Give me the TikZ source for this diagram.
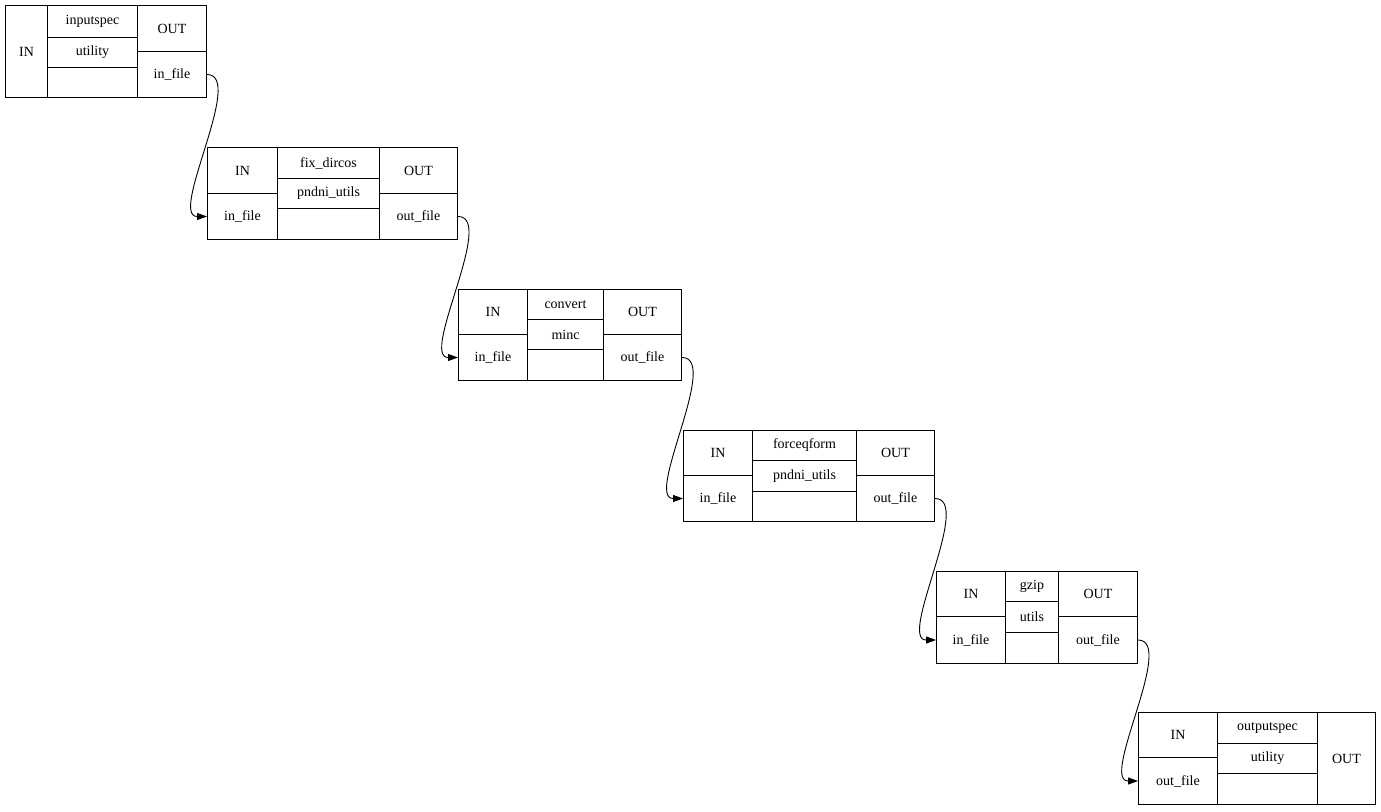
\documentclass[tikz,border=0pt]{standalone}
\usepackage{fontspec}
\setmainfont{Liberation Serif}
\usetikzlibrary{arrows.meta}

\begin{document}
\begin{tikzpicture}[x=1pt, y=1pt, line width=1pt,
  cell/.style={draw, rectangle, inner sep=0pt, anchor=north west, font=\fontsize{14}{16}\selectfont},
  link/.style={-{Triangle[length=10pt,width=7pt]}, line width=0.9pt, looseness=0.7}]
\useasboundingbox (0,0) rectangle (1381,-811);
% inputspec
\node[cell, minimum width=42, minimum height=92] (aIN) at (5,-5) {IN};
\node[cell, minimum width=90, minimum height=32] (aT) at (47,-5) {inputspec};
\node[cell, minimum width=90, minimum height=30] (aM) at (47,-37) {utility};
\node[cell, minimum width=90, minimum height=30] (aB) at (47,-67) {};
\node[cell, minimum width=69, minimum height=46] (aOUT) at (137,-5) {OUT};
\node[cell, minimum width=69, minimum height=46] (aP) at (137,-51) {in\_file};
% fix_dircos
\node[cell, minimum width=70, minimum height=46] (bIN) at (207,-147) {IN};
\node[cell, minimum width=70, minimum height=46] (bI) at (207,-193) {in\_file};
\node[cell, minimum width=102, minimum height=31] (bT) at (277,-147) {fix\_dircos};
\node[cell, minimum width=102, minimum height=30] (bM) at (277,-178) {pndni\_utils};
\node[cell, minimum width=102, minimum height=31] (bB) at (277,-208) {};
\node[cell, minimum width=78, minimum height=46] (bOUT) at (379,-147) {OUT};
\node[cell, minimum width=78, minimum height=46] (bP) at (379,-193) {out\_file};
% convert
\node[cell, minimum width=69, minimum height=45] (cIN) at (458,-289) {IN};
\node[cell, minimum width=69, minimum height=46] (cI) at (458,-334) {in\_file};
\node[cell, minimum width=76, minimum height=30] (cT) at (527,-289) {convert};
\node[cell, minimum width=76, minimum height=30] (cM) at (527,-319) {minc};
\node[cell, minimum width=76, minimum height=31] (cB) at (527,-349) {};
\node[cell, minimum width=78, minimum height=45] (cOUT) at (603,-289) {OUT};
\node[cell, minimum width=78, minimum height=46] (cP) at (603,-334) {out\_file};
% forceqform
\node[cell, minimum width=69, minimum height=45] (dIN) at (683,-430) {IN};
\node[cell, minimum width=69, minimum height=46] (dI) at (683,-475) {in\_file};
\node[cell, minimum width=104, minimum height=30] (dT) at (752,-430) {forceqform};
\node[cell, minimum width=104, minimum height=31] (dM) at (752,-460) {pndni\_utils};
\node[cell, minimum width=104, minimum height=30] (dB) at (752,-491) {};
\node[cell, minimum width=78, minimum height=45] (dOUT) at (856,-430) {OUT};
\node[cell, minimum width=78, minimum height=46] (dP) at (856,-475) {out\_file};
% gzip
\node[cell, minimum width=69, minimum height=45] (eIN) at (936,-571) {IN};
\node[cell, minimum width=69, minimum height=47] (eI) at (936,-616) {in\_file};
\node[cell, minimum width=53, minimum height=30] (eT) at (1005,-571) {gzip};
\node[cell, minimum width=53, minimum height=31] (eM) at (1005,-601) {utils};
\node[cell, minimum width=53, minimum height=31] (eB) at (1005,-632) {};
\node[cell, minimum width=79, minimum height=45] (eOUT) at (1058,-571) {OUT};
\node[cell, minimum width=79, minimum height=47] (eP) at (1058,-616) {out\_file};
% outputspec
\node[cell, minimum width=79, minimum height=45] (fIN) at (1138,-712) {IN};
\node[cell, minimum width=79, minimum height=47] (fI) at (1138,-757) {out\_file};
\node[cell, minimum width=100, minimum height=31] (fT) at (1217,-712) {outputspec};
\node[cell, minimum width=100, minimum height=30] (fM) at (1217,-743) {utility};
\node[cell, minimum width=100, minimum height=31] (fB) at (1217,-773) {};
\node[cell, minimum width=58, minimum height=92] (fOUT) at (1317,-712) {OUT};
% links
\draw[link] (aP.east) to[out=0, in=180] (bI.west);
\draw[link] (bP.east) to[out=0, in=180] (cI.west);
\draw[link] (cP.east) to[out=0, in=180] (dI.west);
\draw[link] (dP.east) to[out=0, in=180] (eI.west);
\draw[link] (eP.east) to[out=0, in=180] (fI.west);
\end{tikzpicture}
\end{document}
